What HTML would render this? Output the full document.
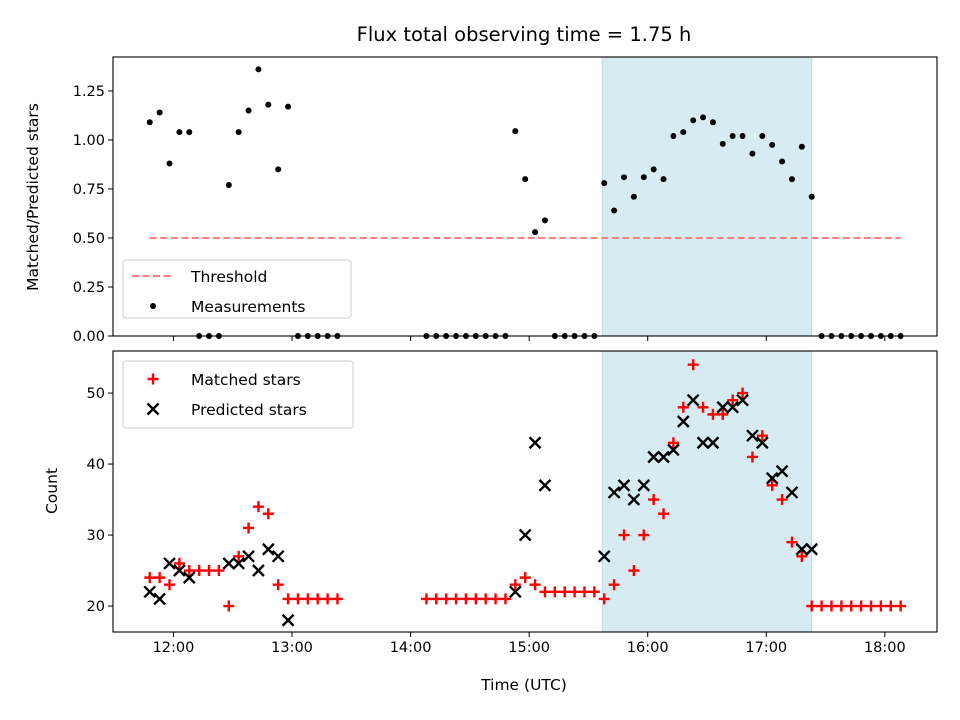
<!DOCTYPE html>
<html><head><meta charset="utf-8">
<style>
html,body{margin:0;padding:0;background:#fff;}
svg{display:block;font-family:"DejaVu Sans","Liberation Sans",sans-serif;}
</style></head>
<body>
<svg id="chart" width="960" height="720" viewBox="0 0 960 720" xmlns="http://www.w3.org/2000/svg"></svg>
<script>
const times = ["11:48","11:53","11:58","12:03","12:08","12:13","12:18","12:23","12:28","12:33","12:38","12:43","12:48","12:53","12:58","13:03","13:08","13:13","13:18","13:23",
"14:08","14:13","14:18","14:23","14:28","14:33","14:38","14:43","14:48",
"14:53","14:58","15:03","15:08",
"15:13","15:18","15:23","15:28","15:33",
"15:38","15:43","15:48","15:53","15:58","16:03","16:08","16:13","16:18","16:23","16:28","16:33","16:38","16:43","16:48","16:53","16:58","17:03","17:08","17:13","17:18","17:23",
"17:28","17:33","17:38","17:43","17:48","17:53","17:58","18:03","18:08"];
const ratio = [1.09,1.14,0.88,1.04,1.04,0,0,0,0.77,1.04,1.15,1.36,1.18,0.85,1.17,0,0,0,0,0,
0,0,0,0,0,0,0,0,0,
1.045,0.80,0.53,0.59,
0,0,0,0,0,
0.78,0.64,0.81,0.71,0.81,0.85,0.80,1.02,1.04,1.10,1.115,1.09,0.98,1.02,1.02,0.93,1.02,0.975,0.89,0.80,0.965,0.71,
0,0,0,0,0,0,0,0,0];
const matched = [24,24,23,26,25,25,25,25,20,27,31,34,33,23,21,21,21,21,21,21,
21,21,21,21,21,21,21,21,21,
23,24,23,22,
22,22,22,22,22,
21,23,30,25,30,35,33,43,48,54,48,47,47,49,50,41,44,37,35,29,27,20,
20,20,20,20,20,20,20,20,20];
const predicted = [22,21,26,25,24,null,null,null,26,26,27,25,28,27,18,null,null,null,null,null,
null,null,null,null,null,null,null,null,null,
22,30,43,37,
null,null,null,null,null,
27,36,37,35,37,41,41,42,46,49,43,43,48,48,49,44,43,38,39,36,28,28,
null,null,null,null,null,null,null,null,null];
const threshold = 0.5;
const spanStart = "15:38", spanEnd = "17:23";
const xTicks = ["12:00","13:00","14:00","15:00","16:00","17:00","18:00"];
const yTopTicks = [0,0.25,0.5,0.75,1.0,1.25];
const yBotTicks = [20,30,40,50];

const NS="http://www.w3.org/2000/svg";
const svg=document.getElementById('chart');
function el(tag,attrs,parent){const e=document.createElementNS(NS,tag);for(const k in attrs)e.setAttribute(k,attrs[k]);(parent||svg).appendChild(e);return e;}
function hrs(t){const p=t.split(':');return +p[0]+(+p[1])/60;}
const L=113,R=937;
const X0=11.49,X1=18.44;
function x(t){return L+(hrs(t)-X0)/(X1-X0)*(R-L);}
const TT=57,TB=336; const yt=v=>TB-v/1.423*(TB-TT);
const BT=351,BB=632; const yb=v=>BB-(v-16.34)/(55.93-16.34)*(BB-BT);

let t=el('text',{x:524,y:41,'text-anchor':'middle','font-size':'19.5'});t.textContent='Flux total observing time = 1.75 h';


for(const [top,bot,nm] of [[TT,TB,'top'],[BT,BB,'bottom']]){
  const r=el('rect',{x:x(spanStart)-2,y:top,width:x(spanEnd)-x(spanStart)+2,height:bot-top,fill:'#add8e6','fill-opacity':'0.5',stroke:'#add8e6','stroke-opacity':'0.8'});
  
  
}

const th=el('line',{x1:x(times[0]),x2:x(times[times.length-1]),y1:yt(threshold),y2:yt(threshold),stroke:'#ff7f7f','stroke-width':'2','stroke-dasharray':'7,3.5'});



times.forEach((tm,i)=>{
  const c=el('circle',{cx:x(tm),cy:yt(ratio[i]),r:3,fill:'#000'});
  
  
});

times.forEach((tm,i)=>{
  const cx=x(tm),cy=yb(matched[i]);
  const g=el('path',{d:`M${cx-5.5},${cy}H${cx+5.5}M${cx},${cy-5.5}V${cy+5.5}`,stroke:'#ff0000','stroke-width':'2.4',fill:'none'});
  
  
});
times.forEach((tm,i)=>{
  if(predicted[i]===null)return;
  const cx=x(tm),cy=yb(predicted[i]);
  const g=el('path',{d:`M${cx-5.5},${cy-5.5}L${cx+5.5},${cy+5.5}M${cx-5.5},${cy+5.5}L${cx+5.5},${cy-5.5}`,stroke:'#000','stroke-width':'2.4',fill:'none'});
  
  
});

for(const [top,bot,nm] of [[TT,TB,'top'],[BT,BB,'bottom']]){
  const f=el('rect',{x:L,y:top,width:R-L,height:bot-top,fill:'none',stroke:'#000','stroke-width':'1.1'});
  
  
  xTicks.forEach(tk=>{
    const l=el('line',{x1:x(tk),x2:x(tk),y1:bot,y2:bot+5,stroke:'#000','stroke-width':'1'});
    
    
  });
}
xTicks.forEach(tk=>{
  const tx=el('text',{x:x(tk),y:BB+20,'text-anchor':'middle','font-size':'14.5'});tx.textContent=tk;
  
  
});
yTopTicks.forEach(v=>{
  const l=el('line',{x1:L-5,x2:L,y1:yt(v),y2:yt(v),stroke:'#000'});
  
  
  const tx=el('text',{x:L-8,y:yt(v)+5,'text-anchor':'end','font-size':'14.5'});tx.textContent=v.toFixed(2);
  
  
});
yBotTicks.forEach(v=>{
  const l=el('line',{x1:L-5,x2:L,y1:yb(v),y2:yb(v),stroke:'#000'});
  
  
  const tx=el('text',{x:L-8,y:yb(v)+5,'text-anchor':'end','font-size':'14.5'});tx.textContent=v;
  
  
});
let a=el('text',{x:524,y:690,'text-anchor':'middle','font-size':'15.5'});a.textContent='Time (UTC)';

a=el('text',{x:0,y:0,'text-anchor':'middle','font-size':'15.5',transform:'translate(38,197) rotate(-90)'});a.textContent='Matched/Predicted stars';

a=el('text',{x:0,y:0,'text-anchor':'middle','font-size':'15.5',transform:'translate(57,491) rotate(-90)'});a.textContent='Count';


let lg=el('g',{});
el('rect',{x:123,y:260,width:228,height:58,rx:3,fill:'#fff','fill-opacity':'0.8',stroke:'#ccc'},lg);
el('line',{x1:132,x2:174,y1:276,y2:276,stroke:'#ff7f7f','stroke-width':'2','stroke-dasharray':'7,3.5'},lg);
el('circle',{cx:153,cy:306,r:3,fill:'#000'},lg);
let lt=el('text',{x:191,y:282,'font-size':'15.5'},lg);lt.textContent='Threshold';
lt=el('text',{x:191,y:312,'font-size':'15.5'},lg);lt.textContent='Measurements';

lg=el('g',{});
el('rect',{x:123,y:361,width:230,height:67,rx:3,fill:'#fff','fill-opacity':'0.8',stroke:'#ccc'},lg);
el('path',{d:'M147.5,379H158.5M153,373.5V384.5',stroke:'#ff0000','stroke-width':'2.4'},lg);
el('path',{d:'M147.5,403.5L158.5,414.5M147.5,414.5L158.5,403.5',stroke:'#000','stroke-width':'2.4'},lg);
lt=el('text',{x:191,y:385,'font-size':'15.5'},lg);lt.textContent='Matched stars';
lt=el('text',{x:191,y:415,'font-size':'15.5'},lg);lt.textContent='Predicted stars';
</script>
</body></html>
